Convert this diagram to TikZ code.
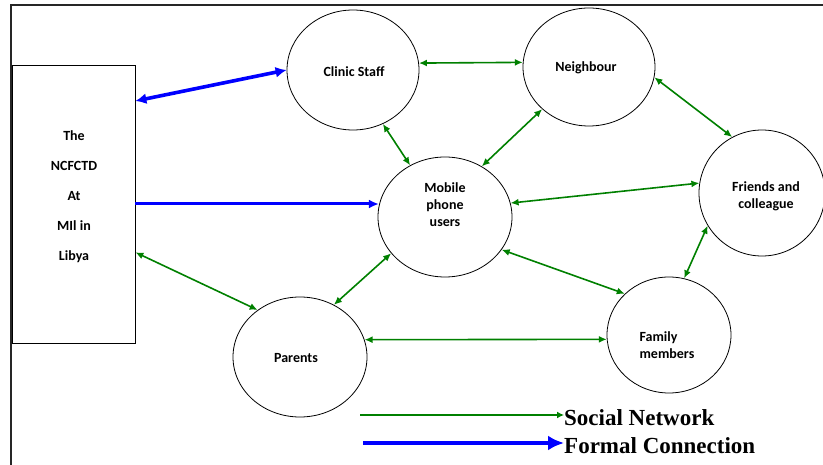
\documentclass[tikz,border=0pt]{standalone}
\usepackage{fontspec}
\setmainfont{Carlito}
\newfontfamily\legendfont{Liberation Serif}
\usetikzlibrary{shapes.geometric,arrows.meta,calc}
\definecolor{netgreen}{RGB}{0,128,0}
\definecolor{formalblue}{RGB}{0,0,255}
\begin{document}
\begin{tikzpicture}[x=1pt,y=-1pt,
  bubble/.style={ellipse,draw=black,line width=0.8pt,inner sep=0pt},
  nodetext/.style={font=\fontsize{14}{17}\selectfont\bfseries,align=center,inner sep=0pt},
  social/.style={draw=netgreen,line width=1.6pt,
    {Latex[length=8pt,width=7pt]}-{Latex[length=8pt,width=7pt]}},
  formal/.style={draw=formalblue,line width=3.6pt,
    {Latex[length=11pt,width=11pt]}-{Latex[length=11pt,width=11pt]}},
  formalone/.style={draw=formalblue,line width=3pt,-{Latex[length=10pt,width=9pt]}},
  legendtext/.style={font=\legendfont\bfseries\fontsize{23}{26}\selectfont,anchor=west,inner sep=0pt}]
\useasboundingbox (0,0) rectangle (823,465);

% frame
\draw[line width=1.6pt,black!85] (823,5) -- (11,5) -- (11,465);

% organisation box
\node[draw=black,line width=0.8pt,minimum width=123pt,minimum height=278pt,inner sep=0pt]
  (box) at (73.5,204) {};
\node[nodetext,font=\fontsize{14}{30}\selectfont\bfseries] (boxtext) at (74,197)
  {The\\NCFCTD\\At\\MIl in\\Libya};

% people
\node[bubble,minimum width=132pt,minimum height=120pt] (clinic) at (353,70) {};
\node[nodetext] (clinictext) at (354,72) {Clinic Staff};

\node[bubble,minimum width=132pt,minimum height=118pt] (neigh) at (589,67) {};
\node[nodetext] (neightext) at (586,68) {Neighbour};

\node[bubble,minimum width=126pt,minimum height=126pt] (friends) at (762,193) {};
\node[nodetext] (friendstext) at (766,196) {Friends and\\colleague};

\node[bubble,minimum width=134pt,minimum height=120pt] (mobile) at (445,217) {};
\node[nodetext] (mobiletext) at (445,205) {Mobile\\phone\\users};

\node[bubble,minimum width=134pt,minimum height=120pt] (parents) at (300,357) {};
\node[nodetext] (parentstext) at (296,358) {Parents};

\node[bubble,minimum width=124pt,minimum height=116pt] (family) at (669,335) {};
\node[nodetext,align=left] (familytext) at (667,345) {Family\\members};

% social network links
\draw[social] (clinic.6) -- (neigh.176);
\draw[social] (neigh.-9) -- (friends.118);
\draw[social] (clinic.-61) -- (mobile.124);
\draw[social] (neigh.222) -- (mobile.54);
\draw[social] (mobile.12) -- (friends.171);
\draw[social] (mobile.-30) -- (family.137);
\draw[social] (friends.211) -- (family.75);
\draw[social] (mobile.214) -- (parents.57);
\draw[social] (box.-38.6) -- (parents.132);
\draw[social] (parents.15) -- (family.184);

% formal connections
\draw[formal] (box.59.6) -- (clinic.180);
\draw[formalone] (box.east) -- (box.east -| mobile.170);

% legend
\coordinate (lsocial) at (360,415);
\coordinate (lformal) at (363,443);
\node[legendtext] (socialtext) at (564,418) {Social Network};
\node[legendtext] (formaltext) at (564,446) {Formal Connection};
\draw[draw=netgreen,line width=1.6pt,-{Latex[length=7pt,width=7pt]}]
  (lsocial) -- (lsocial -| socialtext.west);
\draw[draw=formalblue,line width=4.5pt,-{Latex[length=16pt,width=15pt]}]
  (lformal) -- (lformal -| formaltext.west);
\end{tikzpicture}
\end{document}
